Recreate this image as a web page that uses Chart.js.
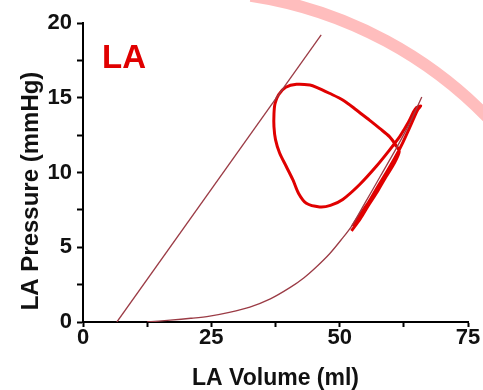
<!DOCTYPE html>
<html>
<head>
<meta charset="utf-8">
<script src="https://cdn.jsdelivr.net/npm/chart.js@4.4.1/dist/chart.umd.min.js"></script>
<style>
  html, body { margin: 0; padding: 0; background: #fff; }
  #wrap { width: 483px; height: 390px; }
</style>
</head>
<body>
<div id="wrap"><canvas id="laChart" width="483" height="390"></canvas></div>
<script>
// steep straight line on the left
var lineX = [6.6, 46.4];
var lineY = [0, 19.2];

// passive filling curve
var curveX = [12.5, 17, 21, 24.7, 28.5, 32.5, 36.5, 40.3, 43, 45.5, 48, 50.3, 52.3, 55, 58, 61, 63.5, 66];
var curveY = [0, 0.12, 0.25, 0.4, 0.65, 1.0, 1.55, 2.3, 2.95, 3.7, 4.55, 5.5, 6.4, 8.0, 9.8, 11.6, 13.2, 15.05];

// LA pressure-volume loop (traced in drawing order)
var loopX = [52.5, 54, 55.8, 57.5, 59.1, 60.8, 62.3, 63.5, 64.4, 65.2, 65.8,
    65.0, 64.3, 63.6, 62.6, 61.7, 59.7, 57.1, 53.9, 50.6, 48.2, 46.1, 43.5, 42, 40.9, 39.6, 38.3, 37.5, 37.2, 37.2, 37.4, 38.1, 39.5, 41.6, 44.2, 45.5, 48, 50.6, 53.2, 55.8, 57.8, 59.7, 61.0, 61.6,
    60.6, 59.0, 57.3, 55.6, 54, 52.3];
var loopY = [6.4, 7.2, 8.1, 9.1, 10.0, 11.0, 12.0, 12.9, 13.6, 14.2, 14.45,
    14.35, 14.0, 13.5, 12.9, 12.4, 11.5, 10.4, 9.2, 8.2, 7.8, 7.7, 7.94, 8.6, 9.5, 10.4, 11.3, 12.2, 13.06, 13.9, 14.6, 15.2, 15.7, 15.9, 15.85, 15.7, 15.3, 14.85, 14.2, 13.5, 12.95, 12.4, 11.8, 11.4,
    10.6, 9.7, 8.7, 7.8, 6.9, 6.1];

var xTicks = [0, 25, 50, 75];
var yTicks = [0, 5, 10, 15, 20];

var xTitle = 'LA Volume (ml)';
var yTitle = 'LA Pressure (mmHg)';
var panelLabel = 'LA';

function toPoints(xs, ys) {
    var pts = [];
    for (var i = 0; i < xs.length; i++) {
        pts.push({x: xs[i], y: ys[i]});
    }
    return pts;
}

// pink arc behind the chart and the free texts
var decor = {
    id: 'decor',
    beforeDraw: function (chart) {
        var ctx = chart.ctx;
        ctx.save();
        ctx.strokeStyle = '#ffbdbd';
        ctx.lineWidth = 12;
        ctx.beginPath();
        ctx.arc(188, 409, 418, -1.42, 0);
        ctx.stroke();
        ctx.restore();
    },
    afterDraw: function (chart) {
        var ctx = chart.ctx;
        ctx.save();
        ctx.fillStyle = '#e00000';
        ctx.font = 'bold 33px "Liberation Sans", Arial, sans-serif';
        ctx.textBaseline = 'alphabetic';
        ctx.fillText(panelLabel, 102, 68);

        ctx.fillStyle = '#111';
        ctx.font = 'bold 24px "Liberation Sans", Arial, sans-serif';
        ctx.textAlign = 'center';
        ctx.textBaseline = 'middle';
        ctx.translate(31, 191);
        ctx.rotate(-Math.PI / 2);
        ctx.fillText(yTitle, 0, 0);
        ctx.restore();
    }
};

var tickFont = {family: '"Liberation Sans", Arial, sans-serif', size: 22, weight: 'bold'};

var ctx = document.getElementById('laChart');
var laChart = new Chart(ctx, {
    type: 'scatter',
    data: {
        datasets: [{
            label: 'line',
            data: toPoints(lineX, lineY),
            showLine: true,
            borderColor: '#9b3b45',
            borderWidth: 1.3,
            pointRadius: 0
        }, {
            label: 'curve',
            data: toPoints(curveX, curveY),
            showLine: true,
            borderColor: '#9b3b45',
            borderWidth: 1.3,
            pointRadius: 0,
            tension: 0.3
        }, {
            label: 'loop',
            data: toPoints(loopX, loopY),
            showLine: true,
            borderColor: '#e00000',
            borderWidth: 3,
            pointRadius: 0,
            tension: 0.3
        }]
    },
    options: {
        responsive: false,
        animation: false,
        layout: {padding: {top: 23, right: 15, left: 0, bottom: 0}},
        plugins: {legend: {display: false}, tooltip: {enabled: false}},
        scales: {
            x: {
                type: 'linear',
                min: 0,
                max: 75,
                afterFit: function (scale) { scale.height = 68; },
                border: {display: true, color: '#000', width: 2},
                grid: {drawOnChartArea: false, drawTicks: true, tickLength: 5, tickColor: '#000', tickWidth: 2},
                ticks: {
                    stepSize: 12.5,
                    padding: -2,
                    color: '#111',
                    font: tickFont,
                    maxRotation: 0,
                    autoSkip: false,
                    callback: function (v) { return xTicks.indexOf(v) >= 0 ? String(v) : ''; }
                },
                title: {
                    display: true,
                    text: xTitle,
                    color: '#111',
                    font: {family: '"Liberation Sans", Arial, sans-serif', size: 23, weight: 'bold', lineHeight: 1},
                    padding: {top: 0, bottom: 0}
                }
            },
            y: {
                type: 'linear',
                min: 0,
                max: 20,
                afterFit: function (scale) { scale.width = 83; },
                border: {display: true, color: '#000', width: 2},
                grid: {drawOnChartArea: false, drawTicks: true, tickLength: 6, tickColor: '#000', tickWidth: 2},
                ticks: {
                    stepSize: 2.5,
                    padding: 5,
                    color: '#111',
                    font: tickFont,
                    autoSkip: false,
                    callback: function (v) { return yTicks.indexOf(v) >= 0 ? String(v) : ''; }
                }
            }
        }
    },
    plugins: [decor]
});
</script>
</body>
</html>
